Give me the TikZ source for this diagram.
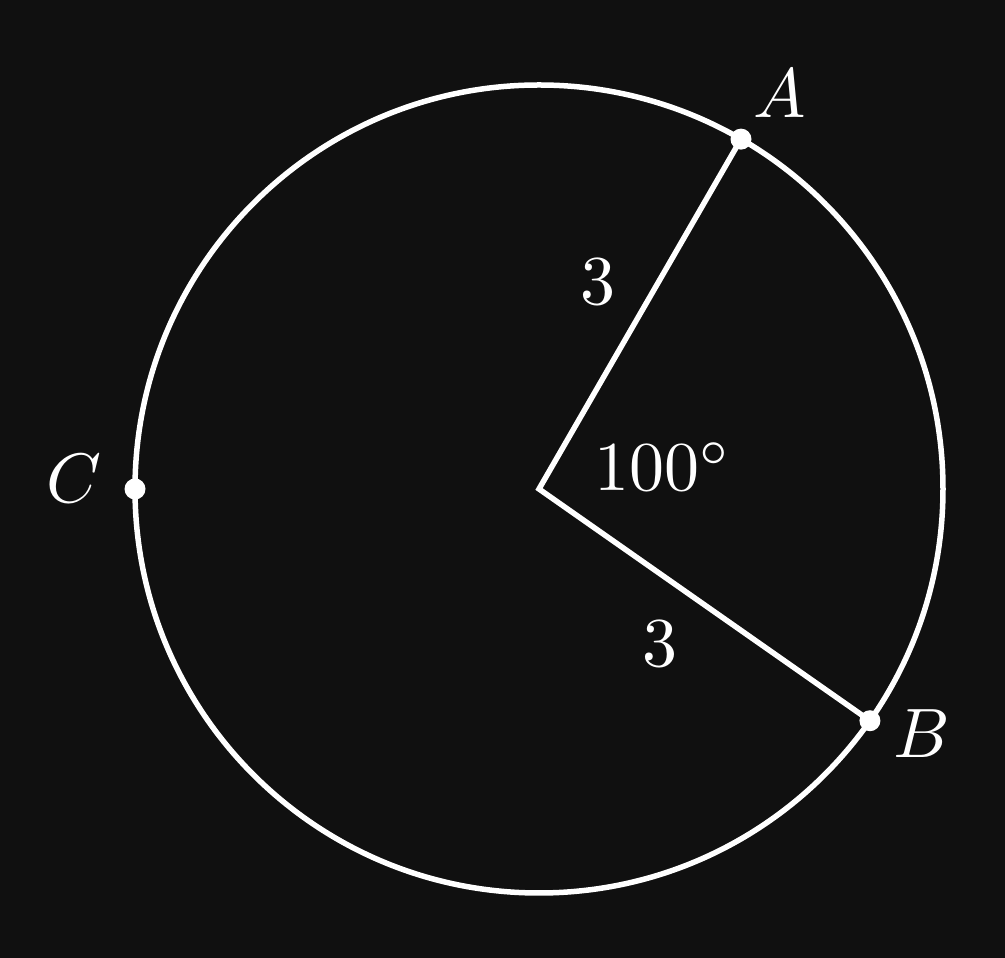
\documentclass[tikz,border=0pt]{standalone}
\usetikzlibrary{calc}
\definecolor{bg}{HTML}{101010}
\begin{document}
\begin{tikzpicture}[x=1pt,y=1pt,
  line/.style={draw=white,line width=5.5pt},
  dot/.style={circle,fill=white,inner sep=0pt,minimum size=21pt},
  lbl/.style={text=white,inner sep=0pt,font=\normalsize,scale=7}]
\fill[bg] (0,0) rectangle (1005,958);
\useasboundingbox (0,0) rectangle (1005,958);
\coordinate (O) at (539,469);
\draw[line] (O) circle (404);
\coordinate (A) at ($(O)+(60:404)$);
\coordinate (B) at ($(O)+(-35:404)$);
\coordinate (C) at ($(O)+(180:404)$);
\draw[line] (A) -- (O) -- (B);
\node[dot] (dA) at (A) {};
\node[dot] (dB) at (B) {};
\node[dot] (dC) at (C) {};
\node[lbl,anchor=base west] (lA) at (752,840) {$A$};
\node[lbl,anchor=base west] (lB) at (892,200) {$B$};
\node[lbl,anchor=base west] (lC) at (45,455) {$C$};
\node[lbl,anchor=base] (l1) at (598,653) {$3$};
\node[lbl,anchor=base] (l2) at (660,291) {$3$};
\node[lbl,anchor=base west] (l3) at (593,467) {$100^\circ$};
\end{tikzpicture}
\end{document}
